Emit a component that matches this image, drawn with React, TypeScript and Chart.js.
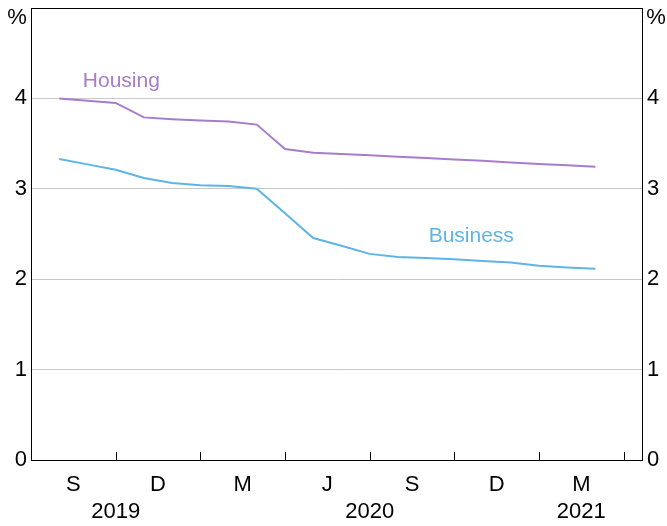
import React, { useEffect, useRef } from 'react';
import { Chart, registerables } from 'chart.js';

Chart.register(...registerables);

// month index: 0 = start of Jul 2019; value k = end of k-th month
const months = [1, 2, 3, 4, 5, 6, 7, 8, 9, 10, 11, 12, 13, 14, 15, 16, 17, 18, 19, 20];
const housing = [4.0, 3.975, 3.95, 3.79, 3.77, 3.755, 3.745, 3.71, 3.44, 3.4, 3.385, 3.37, 3.355, 3.34, 3.325, 3.31, 3.29, 3.275, 3.26, 3.245];
const business = [3.33, 3.27, 3.21, 3.12, 3.065, 3.04, 3.03, 3.0, 2.73, 2.455, 2.37, 2.28, 2.245, 2.235, 2.22, 2.2, 2.185, 2.15, 2.13, 2.115];

const quarterTickPositions = [3, 6, 9, 12, 15, 18, 21];
const quarterLabelPositions = [1.5, 4.5, 7.5, 10.5, 13.5, 16.5, 19.5];
const quarterLabels = ['S', 'D', 'M', 'J', 'S', 'D', 'M'];
const years = ['2019', '2020', '2021'];
const yearPositions = [3, 12, 19.5];
const yTicks = [0, 1, 2, 3, 4];

const HOUSING_COLOR = '#a87ccb';
const BUSINESS_COLOR = '#5cb5e6';
const FONT = 'Arial, "Liberation Sans", sans-serif';
const TICK_SIZE = 22;

const overlay = {
  id: 'overlay',
  afterDraw(chart: any) {
    const { ctx, chartArea } = chart;
    const xs = chart.scales.x;
    const ys = chart.scales.y;
    ctx.save();
    ctx.strokeStyle = '#000';
    ctx.lineWidth = 1;
    ctx.strokeRect(
      Math.round(chartArea.left) + 0.5,
      Math.round(chartArea.top) + 0.5,
      Math.round(chartArea.right - chartArea.left),
      Math.round(chartArea.bottom - chartArea.top)
    );
    ctx.beginPath();
    quarterTickPositions.forEach((v) => {
      const x = Math.round(xs.getPixelForValue(v)) + 0.5;
      ctx.moveTo(x, chartArea.bottom);
      ctx.lineTo(x, chartArea.bottom - 8);
    });
    ctx.stroke();

    ctx.fillStyle = '#000';
    ctx.font = `${TICK_SIZE}px ${FONT}`;
    ctx.textAlign = 'center';
    ctx.textBaseline = 'middle';
    years.forEach((y, i) => {
      ctx.fillText(y, xs.getPixelForValue(yearPositions[i]), 512);
    });
    ctx.fillText('%', 17, 18);
    ctx.fillText('%', 656, 18);

    ctx.font = `21px ${FONT}`;
    ctx.fillStyle = HOUSING_COLOR;
    ctx.fillText('Housing', xs.getPixelForValue(3.2), ys.getPixelForValue(4.19));
    ctx.fillStyle = BUSINESS_COLOR;
    ctx.fillText('Business', xs.getPixelForValue(15.6), ys.getPixelForValue(2.48));
    ctx.restore();
  },
};

export default function App() {
  const ref = useRef<HTMLCanvasElement>(null);
  useEffect(() => {
    if (!ref.current) return;
    const setYTicks = (s: any) => {
      s.ticks = yTicks.map((v) => ({ value: v }));
    };
    const chart = new Chart(ref.current, {
      type: 'line',
      data: {
        datasets: [
          {
            label: 'Housing',
            data: months.map((m, i) => ({ x: m, y: housing[i] })),
            borderColor: HOUSING_COLOR,
            borderWidth: 2,
            pointRadius: 0,
            tension: 0,
          },
          {
            label: 'Business',
            data: months.map((m, i) => ({ x: m, y: business[i] })),
            borderColor: BUSINESS_COLOR,
            borderWidth: 2,
            pointRadius: 0,
            tension: 0,
          },
        ],
      },
      options: {
        animation: false,
        responsive: false,
        devicePixelRatio: 1,
        layout: { padding: { top: 8, left: 0, right: 0, bottom: 0 } },
        plugins: { legend: { display: false }, tooltip: { enabled: false } },
        scales: {
          x: {
            type: 'linear',
            min: 0,
            max: 21.65,
            position: 'bottom',
            grid: { display: false, drawTicks: false },
            border: { display: false },
            afterBuildTicks: (s: any) => {
              s.ticks = quarterLabelPositions.map((v) => ({ value: v }));
            },
            afterFit: (s: any) => {
              s.height = 66;
              s.paddingLeft = 0;
              s.paddingRight = 0;
            },
            ticks: {
              autoSkip: false,
              maxRotation: 0,
              padding: 12,
              color: '#000',
              font: { family: FONT, size: TICK_SIZE },
              callback: (_v: any, i: number) => quarterLabels[i],
            },
          },
          y: {
            position: 'left',
            min: 0,
            max: 5,
            afterBuildTicks: setYTicks,
            afterFit: (s: any) => {
              s.width = 31;
              s.paddingTop = 0;
              s.paddingBottom = 0;
            },
            grid: {
              drawTicks: false,
              color: (c: any) => (c.tick && (c.tick.value === 0 || c.tick.value === 5) ? 'rgba(0,0,0,0)' : '#c8c8c8'),
              lineWidth: 1,
            },
            border: { display: false },
            ticks: {
              padding: 4,
              color: '#000',
              font: { family: FONT, size: TICK_SIZE },
            },
          },
          y2: {
            position: 'right',
            min: 0,
            max: 5,
            afterBuildTicks: setYTicks,
            afterFit: (s: any) => {
              s.width = 25;
              s.paddingTop = 0;
              s.paddingBottom = 0;
            },
            grid: { display: false, drawTicks: false },
            border: { display: false },
            ticks: {
              padding: 5,
              color: '#000',
              font: { family: FONT, size: TICK_SIZE },
            },
          },
        },
      },
      plugins: [overlay],
    });
    return () => chart.destroy();
  }, []);
  return (
    <div style={{ position: 'absolute', left: 0, top: 0, width: 667, height: 526, background: '#fff' }}>
      <canvas ref={ref} width={667} height={526} style={{ display: 'block' }} />
    </div>
  );
}
